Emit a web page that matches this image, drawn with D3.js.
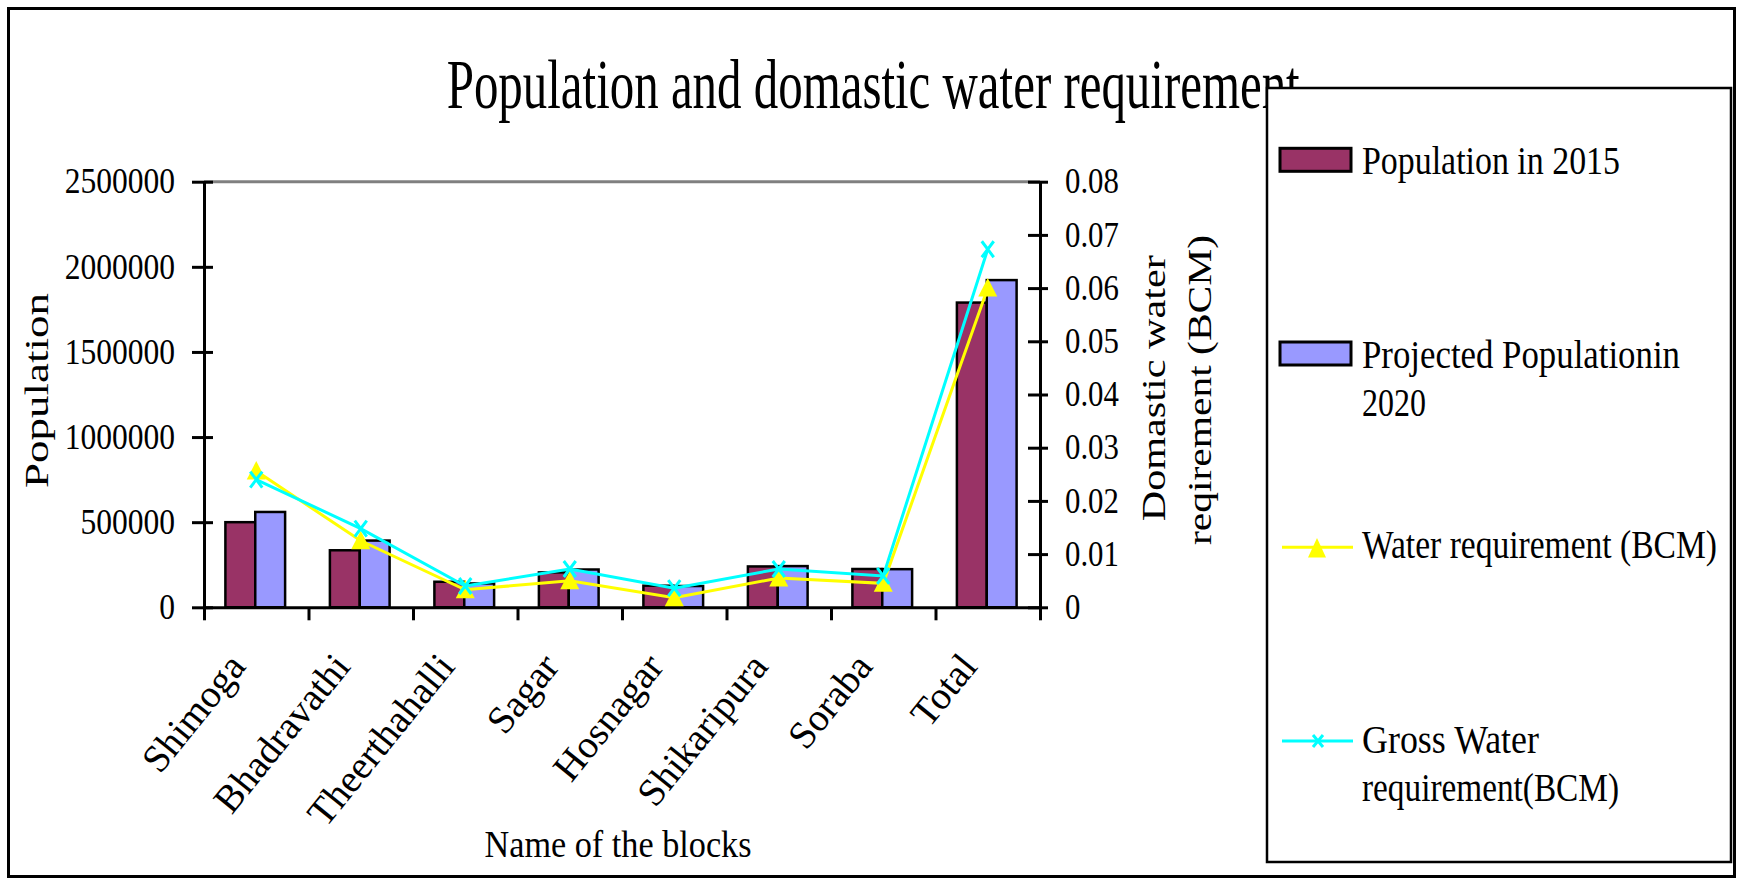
<!DOCTYPE html>
<html>
<head>
<meta charset="utf-8">
<script src="https://cdn.jsdelivr.net/npm/d3@7"></script>
<style>
body{margin:0;background:#fff}
svg{display:block}
text{font-family:"Liberation Serif","Times New Roman",serif;fill:#000}
</style>
</head>
<body>
<svg id="c" width="1738" height="879"></svg>
<script>
const categories = ["Shimoga","Bhadravathi","Theerthahalli","Sagar","Hosnagar","Shikaripura","Soraba","Total"];
const population2015 = [500000, 335000, 150000, 205000, 127000, 240000, 225000, 1790000];
const projected2020 = [560000, 392000, 140000, 222000, 125000, 242000, 224000, 1922000];
const waterRequirement = [0.0256, 0.0125, 0.0033, 0.0050, 0.0018, 0.0055, 0.0045, 0.0600];
const grossWaterRequirement = [0.0240, 0.0148, 0.0040, 0.0072, 0.0036, 0.0072, 0.0059, 0.0673];
const populationTicks = [0, 500000, 1000000, 1500000, 2000000, 2500000];
const waterTicks = [0, 0.01, 0.02, 0.03, 0.04, 0.05, 0.06, 0.07, 0.08];
const titleText = "Population and domastic water requirement";
const legendLabels = [["Population in 2015"], ["Projected Populationin", "2020"], ["Water requirement (BCM)"], ["Gross Water", "requirement(BCM)"]];

const svg = d3.select("#c");
const L = 204, R = 1040, T = 181.7, B = 607.3;

function fit(sel, len) {
  sel.attr("textLength", len).attr("lengthAdjust", "spacingAndGlyphs");
}
function squeeze(sel, k) {
  sel.each(function () {
    const n = this.getComputedTextLength();
    d3.select(this).attr("textLength", n * k).attr("lengthAdjust", "spacingAndGlyphs");
  });
}

// outer frame
svg.append("rect").attr("x", 8.5).attr("y", 8.5).attr("width", 1726).attr("height", 868)
  .attr("fill", "none").attr("stroke", "#000").attr("stroke-width", 3);

// title
svg.append("text").attr("x", 446.7).attr("y", 108).attr("font-size", 70).text(titleText).call(fit, 853);

const x = d3.scaleBand().domain(categories).range([L, R]).padding(0);
const bw = x.bandwidth();
const barW = bw / 3.5;
const xi = d3.scaleLinear().domain([0, categories.length]).range([L, R]);
const yL = d3.scaleLinear().domain([0, 2500000]).range([B, T]);
const yR = d3.scaleLinear().domain([0, 0.08]).range([B, T]);

// top gridline
svg.append("line").attr("x1", L).attr("x2", R).attr("y1", yL(2500000)).attr("y2", yL(2500000))
  .attr("stroke", "#808080").attr("stroke-width", 3);

// bars
const series = [
  {vals: population2015, color: "#993366", off: -1},
  {vals: projected2020, color: "#9999FF", off: 0}
];
series.forEach(s => {
  svg.append("g").selectAll("rect").data(s.vals).join("rect")
    .attr("x", (d, i) => x(categories[i]) + bw / 2 + s.off * barW - 1)
    .attr("y", d => yL(d))
    .attr("width", barW)
    .attr("height", d => yL(0) - yL(d))
    .attr("fill", s.color).attr("stroke", "#000").attr("stroke-width", 2.5);
});

// axes
const gx = svg.append("g").attr("transform", `translate(0,${B})`)
  .call(d3.axisBottom(xi).tickValues(d3.range(categories.length + 1)).tickSize(13).tickSizeOuter(0).tickFormat(""));
gx.selectAll("path,line").attr("stroke", "#000").attr("stroke-width", 3);

const gl = svg.append("g").attr("transform", `translate(${L},0)`)
  .call(d3.axisLeft(yL).tickValues(populationTicks).tickFormat(d3.format("d")).tickSize(0).tickSizeOuter(0).tickPadding(29));
gl.select(".domain").attr("stroke", "#000").attr("stroke-width", 3);
gl.selectAll(".tick line").attr("x1", 9).attr("x2", -12).attr("stroke", "#000").attr("stroke-width", 3);
gl.selectAll(".tick text").attr("font-size", 35).attr("font-family", "Liberation Serif").call(squeeze, 0.9);

const gr = svg.append("g").attr("transform", `translate(${R},0)`)
  .call(d3.axisRight(yR).tickValues(waterTicks).tickFormat(d => d === 0 ? "0" : d3.format(".2f")(d)).tickSize(0).tickSizeOuter(0).tickPadding(25));
gr.select(".domain").attr("stroke", "#000").attr("stroke-width", 3);
gr.selectAll(".tick line").attr("x1", -12).attr("x2", 8).attr("stroke", "#000").attr("stroke-width", 3);
gr.selectAll(".tick text").attr("font-size", 35).attr("font-family", "Liberation Serif").call(squeeze, 0.88);

// category labels
const gc = svg.append("g").attr("transform", `translate(0,${B})`)
  .call(d3.axisBottom(x).tickSize(0));
gc.select(".domain").remove();
gc.selectAll(".tick text")
  .attr("font-size", 39).attr("font-family", "Liberation Serif")
  .attr("text-anchor", "end").attr("x", 0).attr("y", 0).attr("dy", 0)
  .attr("transform", "translate(-9,60) rotate(-51)");

// lines
const line = d3.line().x((d, i) => x(categories[i]) + bw / 2).y(d => yR(d));
svg.append("path").datum(waterRequirement).attr("d", line)
  .attr("fill", "none").attr("stroke", "#FFFF00").attr("stroke-width", 3);
svg.append("g").selectAll("path").data(waterRequirement).join("path")
  .attr("transform", (d, i) => `translate(${x(categories[i]) + bw / 2},${yR(d)})`)
  .attr("d", "M0,-10L9.5,8.5L-9.5,8.5Z").attr("fill", "#FFFF00");
svg.append("path").datum(grossWaterRequirement).attr("d", line)
  .attr("fill", "none").attr("stroke", "#00FFFF").attr("stroke-width", 3);
svg.append("g").selectAll("path").data(grossWaterRequirement).join("path")
  .attr("transform", (d, i) => `translate(${x(categories[i]) + bw / 2},${yR(d)})`)
  .attr("d", "M-6,-8L6,8M-6,8L6,-8").attr("fill", "none").attr("stroke", "#00FFFF").attr("stroke-width", 3);

// axis titles
svg.append("text").attr("transform", "translate(48,390.5) rotate(-90)").attr("text-anchor", "middle")
  .attr("font-size", 33).text("Population").call(fit, 195);
svg.append("text").attr("transform", "translate(1165,388.3) rotate(-90)").attr("text-anchor", "middle")
  .attr("font-size", 33).text("Domastic water").call(fit, 266);
svg.append("text").attr("transform", "translate(1211,390) rotate(-90)").attr("text-anchor", "middle")
  .attr("font-size", 33).text("reqirement (BCM)").call(fit, 310);
svg.append("text").attr("x", 618).attr("y", 856.7).attr("text-anchor", "middle")
  .attr("font-size", 37).text("Name of the blocks").call(fit, 267);

// legend
const lg = svg.append("g");
lg.append("rect").attr("x", 1267).attr("y", 88).attr("width", 464).attr("height", 774)
  .attr("fill", "#fff").attr("stroke", "#000").attr("stroke-width", 2.5);
const legendY = [174.3, 368, 558.3, 753.3];
const legendLens = [[258], [318, 64], [355], [177, 257]];
const legendLineGap = 48;
legendLabels.forEach((lines, k) => {
  lines.forEach((t, j) => {
    lg.append("text")
      .attr("transform", `translate(1362,${legendY[k] + j * legendLineGap}) scale(1,1.2)`)
      .attr("font-size", 33)
      .text(t).call(fit, legendLens[k][j]);
  });
});
[series[0], series[1]].forEach((s, k) => {
  lg.append("rect").attr("x", 1280).attr("y", legendY[k] - 26).attr("width", 71).attr("height", 23)
    .attr("fill", s.color).attr("stroke", "#000").attr("stroke-width", 3);
});
lg.append("line").attr("x1", 1282).attr("x2", 1353).attr("y1", 547.3).attr("y2", 547.3)
  .attr("stroke", "#FFFF00").attr("stroke-width", 3);
lg.append("path").attr("transform", "translate(1317,548)").attr("d", "M0,-10L9,9.5L-9,9.5Z").attr("fill", "#FFFF00");
lg.append("line").attr("x1", 1282).attr("x2", 1353).attr("y1", 741).attr("y2", 741)
  .attr("stroke", "#00FFFF").attr("stroke-width", 3);
lg.append("path").attr("transform", "translate(1318,741)").attr("d", "M-5,-6L5,6M-5,6L5,-6")
  .attr("fill", "none").attr("stroke", "#00FFFF").attr("stroke-width", 3);
</script>
</body>
</html>
